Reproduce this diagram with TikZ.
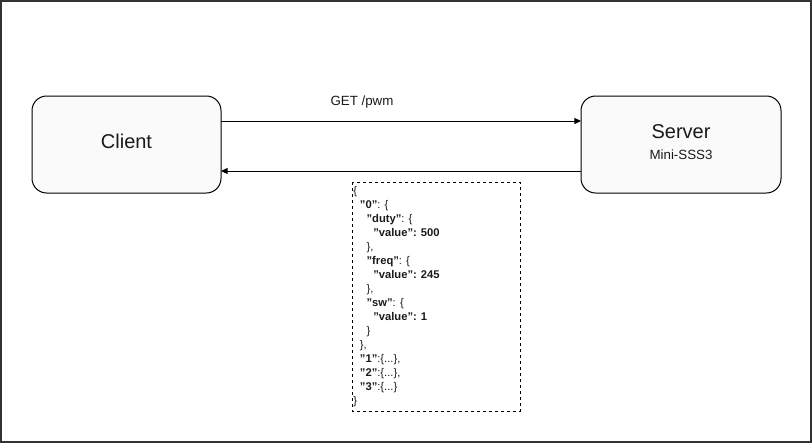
\documentclass[tikz,border=0pt]{standalone}
\usepackage{fontspec}
\setmainfont{Liberation Sans}
\usetikzlibrary{arrows.meta}
\definecolor{boxfill}{HTML}{FAFAFA}
\definecolor{txt}{HTML}{1A1A1A}
\tikzset{
  px/.style={x=0.75pt,y=-0.75pt},
  endbox/.style={draw=black, line width=0.75pt, fill=boxfill, rounded corners=11pt, inner sep=0pt},
  msg/.style={draw=black, line width=0.75pt, -{Triangle[length=5pt,width=4.5pt]}},
}
\newcommand{\ind}[1]{\hspace*{#1}}
\begin{document}
\begin{tikzpicture}[px]
\useasboundingbox (0,0) rectangle (812,443);
\draw[line width=1.5pt, draw=black!80] (1,1) rectangle (811,442);
\node[endbox, minimum width=141.75pt, minimum height=72.75pt] (client) at (126.5,144.5) {};
\node[font=\fontsize{15}{18}\selectfont, text=txt] (clientlbl) at (126.5,141) {Client};
\node[endbox, minimum width=150pt, minimum height=72.75pt] (server) at (681,144.5) {};
\node[font=\fontsize{15}{18}\selectfont, text=txt] (serverlbl) at (681,132) {Server};
\node[font=\fontsize{10}{12}\selectfont, text=txt] (serversub) at (681,154.5) {Mini-SSS3};
\coordinate (c1) at (221,121);
\coordinate (s1) at (581,121);
\coordinate (c2) at (221,171);
\coordinate (s2) at (581,171);
\draw[msg] (c1) -- (s1);
\draw[msg] (s2) -- (c2);
\node[font=\fontsize{10}{12}\selectfont, text=txt] (getlbl) at (362,102) {GET /pwm};
\draw[dashed, line width=0.75pt, dash pattern=on 2.25pt off 2.25pt] (352,182) rectangle (520,411);
\node[anchor=north west, align=left, inner sep=0pt, text=txt,
      font=\fontsize{8.4}{10.5}\selectfont] (json) at (353,186.5) {%
\{\\
\ind{5pt}\textbf{"0"}: \{\\
\ind{10pt}\textbf{"duty"}: \{\\
\ind{15pt}\textbf{"value": 500}\\
\ind{10pt}\},\\
\ind{10pt}\textbf{"freq"}: \{\\
\ind{15pt}\textbf{"value": 245}\\
\ind{10pt}\},\\
\ind{10pt}\textbf{"sw"}: \{\\
\ind{15pt}\textbf{"value": 1}\\
\ind{10pt}\}\\
\ind{5pt}\},\\
\ind{5pt}\textbf{"1"}:\{...\},\\
\ind{5pt}\textbf{"2"}:\{...\},\\
\ind{5pt}\textbf{"3"}:\{...\}\\
\}};
\end{tikzpicture}
\end{document}
